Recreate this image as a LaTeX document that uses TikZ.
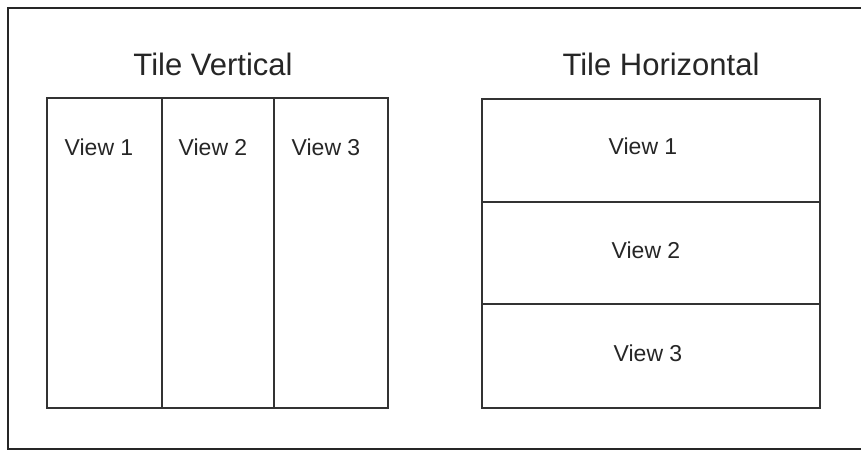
\documentclass[tikz,border=0pt]{standalone}
\usepackage{fontspec}
\setmainfont{Liberation Sans}
\usepackage{tikz}

\tikzset{
    frame/.style={line width=1.6pt, black!85},
    pane/.style={line width=1.3pt, black!80},
    title/.style={anchor=base, font=\fontsize{31}{37}\selectfont, text=black!85},
    view/.style={anchor=base, font=\fontsize{23}{28}\selectfont, text=black!85}
}

\begin{document}
\begin{tikzpicture}[x=1pt,y=-1pt]
    \useasboundingbox (0,0) rectangle (861,451);
    \clip (0,0) rectangle (861,451);

    % Outer frame
    \draw[frame] (8,8) rectangle (880,449);

    % Tile vertical
    \node[title] (tv) at (213,75) {Tile Vertical};
    \draw[pane] (47,98) rectangle (388,408);
    \draw[pane] (162,98) -- (162,408);
    \draw[pane] (274,98) -- (274,408);
    \node[view] (tv1) at (99,155) {View 1};
    \node[view] (tv2) at (213,155) {View 2};
    \node[view] (tv3) at (326,155) {View 3};

    % Tile horizontal
    \node[title] (th) at (661,75) {Tile Horizontal};
    \draw[pane] (482,99) rectangle (820,408);
    \draw[pane] (482,202) -- (820,202);
    \draw[pane] (482,304) -- (820,304);
    \node[view] (th1) at (643,154) {View 1};
    \node[view] (th2) at (646,258) {View 2};
    \node[view] (th3) at (648,361) {View 3};
\end{tikzpicture}
\end{document}
